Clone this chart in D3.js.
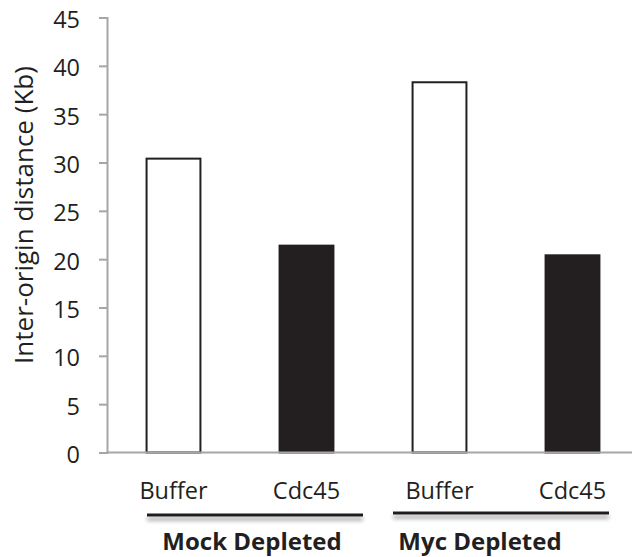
<!DOCTYPE html>
<html><head><meta charset="utf-8">
<script src="https://cdn.jsdelivr.net/npm/d3@7"></script>
<style>body{margin:0;background:#fff;} svg{display:block;font-family:"Open Sans",sans-serif;}</style>
</head><body>
<script>
const categories = ["Buffer", "Cdc45", "Buffer", "Cdc45"];
const values = [30.4, 21.4, 38.3, 20.4];
const treatment = ["buffer", "cdc45", "buffer", "cdc45"];
const groups = ["Mock Depleted", "Myc Depleted"];
const yTicks = [0, 5, 10, 15, 20, 25, 30, 35, 40, 45];
const yTitle = "Inter-origin distance (Kb)";

const W = 632, H = 557;
const svg = d3.select("body").append("svg").attr("width", W).attr("height", H);

const x = d3.scaleBand().domain(d3.range(categories.length)).range([107, 639]);
const y = d3.scaleLinear().domain([0, 45]).range([452.5, 17.5]);
const bw = x.bandwidth() * 0.405;

// shadow filter (user space so zero-height lines work)
const defs = svg.append("defs");
const f = defs.append("filter").attr("id", "sh").attr("filterUnits", "userSpaceOnUse")
  .attr("x", 0).attr("y", 0).attr("width", W).attr("height", H);
f.append("feGaussianBlur").attr("in", "SourceAlpha").attr("stdDeviation", 2.2).attr("result", "b");
f.append("feOffset").attr("in", "b").attr("dy", 4).attr("result", "o");
f.append("feComponentTransfer").attr("in", "o").attr("result", "o2")
  .append("feFuncA").attr("type", "linear").attr("slope", 0.4);
const m = f.append("feMerge");
m.append("feMergeNode").attr("in", "o2");
m.append("feMergeNode").attr("in", "SourceGraphic");

// y axis
const yAxis = svg.append("g").attr("transform", "translate(107,0)")
  .call(d3.axisLeft(y).tickValues(yTicks).tickSize(8).tickPadding(19));
yAxis.select(".domain").attr("stroke", "#a6a6a6").attr("stroke-width", 2);
yAxis.selectAll(".tick line").attr("stroke", "#a6a6a6").attr("stroke-width", 2);
yAxis.selectAll(".tick text").attr("font-size", 23.5).attr("fill", "#231f20")
  .attr("dy", "0.42em").attr("font-family", "Open Sans, sans-serif");

// bars
svg.selectAll("rect.bar").data(values).enter().append("rect")
  .attr("class", "bar")
  .attr("x", (d, i) => x(i) + x.bandwidth() / 2 - bw / 2)
  .attr("width", bw)
  .attr("y", d => y(d))
  .attr("height", d => y(0) - y(d))
  .attr("fill", (d, i) => treatment[i] === "buffer" ? "#fff" : "#231f20")
  .attr("stroke", "#231f20")
  .attr("stroke-width", 2);

// x axis line
svg.append("line").attr("x1", 107).attr("x2", W).attr("y1", y(0)).attr("y2", y(0))
  .attr("stroke", "#a6a6a6").attr("stroke-width", 2);

// category labels
svg.selectAll("text.cat").data(categories).enter().append("text")
  .attr("class", "cat")
  .attr("x", (d, i) => x(i) + x.bandwidth() / 2)
  .attr("y", 499)
  .attr("text-anchor", "middle")
  .attr("font-size", 23.5)
  .attr("fill", "#231f20")
  .text(d => d);

// group lines and labels
const groupLineY = [515, 513];
const lineInset = [[40, 10], [20, 30]];
const labelCenter = [252, 480];
groups.forEach((g, gi) => {
  const a = x(gi * 2), b = x(gi * 2 + 1) + x.bandwidth();
  const x1 = a + lineInset[gi][0], x2 = b - lineInset[gi][1];
  svg.append("line").attr("x1", x1).attr("x2", x2)
    .attr("y1", groupLineY[gi]).attr("y2", groupLineY[gi])
    .attr("stroke", "#231f20").attr("stroke-width", 3).attr("filter", "url(#sh)");
  svg.append("text").attr("x", labelCenter[gi]).attr("y", 550)
    .attr("text-anchor", "middle").attr("font-size", 24).attr("font-weight", "bold")
    .attr("fill", "#231f20").text(g);
});

// y title
svg.append("text").attr("transform", "translate(33,215) rotate(-90)")
  .attr("text-anchor", "middle").attr("font-size", 26).attr("fill", "#231f20")
  .text(yTitle);
</script>
</body></html>
